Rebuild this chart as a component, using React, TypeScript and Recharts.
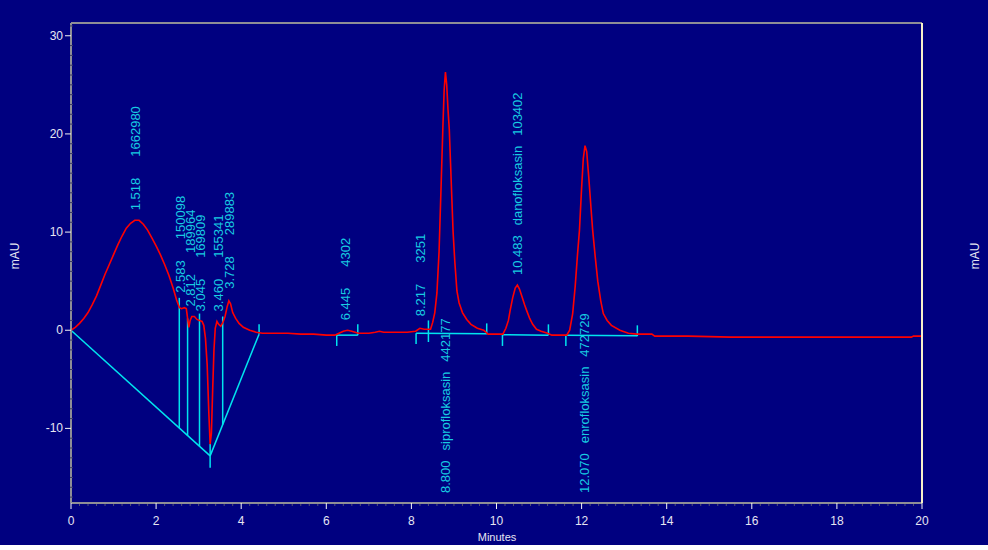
import { ComposedChart, Line, XAxis, YAxis, ReferenceLine, ReferenceDot } from 'recharts';

// detector trace (minutes / mAU)
const TIME = [
  0, 0.1, 0.2, 0.3, 0.4, 0.5, 0.6, 0.7, 0.8, 0.9, 1.0, 1.1, 1.2, 1.3, 1.4, 1.5, 1.6, 1.7, 1.8, 1.9,
  2.0, 2.1, 2.2, 2.3, 2.4, 2.48, 2.55, 2.6, 2.66, 2.71, 2.74, 2.77, 2.8, 2.84, 2.9, 2.96, 3.02, 3.08,
  3.12, 3.16, 3.2, 3.24, 3.27, 3.3, 3.33, 3.36, 3.39, 3.43, 3.47, 3.52, 3.57, 3.62, 3.67, 3.71, 3.75,
  3.8, 3.87, 3.95, 4.05, 4.2, 4.35, 4.5, 4.8, 5.1, 5.4, 5.7, 6.0, 6.2, 6.3, 6.4, 6.5, 6.6, 6.75, 7.0,
  7.15, 7.25, 7.35, 7.6, 7.9, 8.1, 8.2, 8.3, 8.45, 8.5, 8.55, 8.6, 8.65, 8.7, 8.74, 8.77, 8.8, 8.83,
  8.86, 8.89, 8.92, 8.95, 8.98, 9.02, 9.07, 9.12, 9.2, 9.3, 9.4, 9.55, 9.7, 9.8, 10.0, 10.15, 10.22,
  10.28, 10.32, 10.38, 10.44, 10.49, 10.54, 10.6, 10.66, 10.71, 10.78, 10.85, 10.94, 11.05, 11.2,
  11.3, 11.5, 11.65, 11.72, 11.79, 11.85, 11.9, 11.95, 12.0, 12.04, 12.08, 12.12, 12.17, 12.22, 12.26,
  12.32, 12.38, 12.45, 12.51, 12.6, 12.7, 12.9, 13.1, 13.3, 13.65, 13.72, 14.5, 15.5, 16.5, 17.5,
  18.5, 19.5, 19.75, 19.8, 20,
];
const SIGNAL = [
  0, 0.3, 0.7, 1.2, 1.8, 2.6, 3.5, 4.6, 5.7, 6.7, 7.7, 8.7, 9.6, 10.4, 10.9, 11.2, 11.2, 10.8, 10.2, 9.4,
  8.6, 7.7, 6.7, 5.6, 4.3, 3.1, 2.3, 2.2, 2.3, 2.2, 1.2, 0.3, 1.0, 1.4, 1.4, 1.1, 1.0, 0.9,
  0.5, -0.8, -3.5, -8.5, -11.6, -10.5, -6, -2, 0.2, 0.9, 0.6, 0.4, 0.8, 1.4, 2.4, 3.0, 2.7,
  1.8, 1.2, 0.7, 0.3, 0.0, -0.2, -0.3, -0.3, -0.3, -0.4, -0.4, -0.5, -0.5, -0.3, -0.1, 0.0, -0.1, -0.3, -0.3,
  -0.2, -0.1, -0.2, -0.2, -0.2, -0.1, 0.2, 0.1, 0.1, 0.8, 1.8, 3.8, 8.0, 15.0, 20.7, 24.5, 26.3, 25.0,
  22.5, 20.5, 17.0, 13.5, 10.0, 7.0, 4.0, 2.8, 1.8, 1.1, 0.6, 0.2, 0.0, -0.4, -0.4, -0.4, 0.2,
  1.0, 2.0, 3.3, 4.3, 4.6, 4.2, 3.4, 2.6, 2.0, 1.2, 0.6, 0.1, -0.1, -0.3,
  -0.5, -0.5, -0.5, 0.0, 1.7, 4.5, 7.5, 10.2, 14.5, 17.5, 18.8, 18.2, 15.5, 12.5, 10.2,
  7.5, 5.0, 3.0, 1.7, 1.0, 0.5, 0.0, -0.3, -0.4, -0.4, -0.6, -0.6, -0.7, -0.7, -0.7,
  -0.7, -0.7, -0.7, -0.6, -0.6,
];

// integration results
const PEAK_RT = [1.518, 2.583, 2.812, 3.045, 3.46, 3.728, 6.445, 8.217, 8.8, 10.483, 12.07];
const PEAK_AREA = [1662980, 150098, 189964, 169809, 155341, 289883, 4302, 3251, 442177, 103402, 472729];
const PEAK_HEIGHT = [11.2, 2.8, 1.4, 0.9, 0.9, 3.2, 0.0, 0.4, 26.3, 4.6, 18.8];
const PEAK_NAME = ['', '', '', '', '', '', '', '', 'siprofloksasin', 'danofloksasin', 'enrofloksasin'];

// baselines [x1, y1, x2, y2] and vertical marks [x, yTop, yBottom]
const BASELINES = [
  [0, 0, 3.27, -12.8],
  [3.27, -12.8, 4.42, -0.4],
  [6.245, -0.5, 6.74, -0.5],
  [8.11, -0.3, 9.77, -0.35],
  [10.14, -0.45, 11.22, -0.5],
  [11.63, -0.5, 13.31, -0.55],
];
const MARKS = [
  [0, 0.2, -0.9],
  [2.545, 3.3, -9.96],
  [2.74, 1.2, -10.73],
  [3.02, 1.7, -11.82],
  [3.27, -11.6, -14.0],
  [3.565, 1.4, -9.62],
  [4.42, 0.6, -0.4],
  [6.245, -0.5, -1.6],
  [6.74, 0.6, -0.5],
  [8.11, -0.3, -1.4],
  [8.4, 1.0, -1.2],
  [9.77, 0.7, -0.4],
  [10.14, -0.4, -1.6],
  [11.22, 0.6, -0.5],
  [11.63, -0.5, -1.6],
  [13.31, 0.5, -0.6],
];

const X_LABELS = [0, 2, 4, 6, 8, 10, 12, 14, 16, 18, 20];
const Y_LABELS = [-10, 0, 10, 20, 30];
const Y_MIN = -17.6;
const Y_MAX = 31.3;

const X_TICKS = Array.from({ length: 101 }, (_, i) => Math.round(i * 2) / 10);
const Y_TICKS = Array.from({ length: 49 }, (_, i) => i - 17);

const data = TIME.map((t, i) => ({ t, mAU: SIGNAL[i] }));

const CYAN = '#00e4ee';
const LABEL = '#18cce2';
const AXIS_TEXT = '#e6e6f2';
const FONT = '"Liberation Sans", Arial, sans-serif';

if (typeof document !== 'undefined') document.body.style.margin = '0';

const XTick = ({ x, y, payload }: any) => {
  if (!X_LABELS.includes(payload.value)) {
    return <line x1={x} x2={x} y1={y + 1} y2={y + 3} stroke="#50507a" />;
  }
  return (
    <g>
      <line x1={x} x2={x} y1={y} y2={y + 6} stroke="#f4f4f4" />
      <text x={x} y={y + 22} textAnchor="middle" fill={AXIS_TEXT} fontSize={12} fontFamily={FONT}>
        {payload.value}
      </text>
    </g>
  );
};

const LeftTick = ({ x, y, payload }: any) => {
  if (!Y_LABELS.includes(payload.value)) {
    return <line x1={x - 1} x2={x + 2} y1={y} y2={y} stroke="#3a3a6a" />;
  }
  return (
    <g>
      <line x1={x - 6} x2={x} y1={y} y2={y} stroke="#f4f4f4" />
      <text x={x - 8} y={y + 4} textAnchor="end" fill={AXIS_TEXT} fontSize={12} fontFamily={FONT}>
        {payload.value}
      </text>
    </g>
  );
};

const RightTick = ({ x, y, payload }: any) => {
  if (!Y_LABELS.includes(payload.value)) {
    return <line x1={x - 2} x2={x + 1} y1={y} y2={y} stroke="#6a6a70" />;
  }
  return (
    <g>
      <line x1={x} x2={x + 6} y1={y} y2={y} stroke="#f4f4f4" />
      <text x={x + 8} y={y + 4} textAnchor="start" fill={AXIS_TEXT} fontSize={12} fontFamily={FONT}>
        {payload.value}
      </text>
    </g>
  );
};

// rotated peak annotation: "rt  [name]  area", read bottom to top
const PeakLabel = ({ cx, cy, i }: any) => {
  const named = PEAK_NAME[i] !== '';
  const gap = named ? 10 : 21;
  const tx = cx + 4.5;
  const ty = cy - 10;
  return (
    <text
      x={tx}
      y={ty}
      transform={`rotate(-90, ${tx}, ${ty})`}
      fill={LABEL}
      fontSize={13}
      fontFamily={FONT}
      textAnchor="start"
    >
      <tspan>{PEAK_RT[i].toFixed(3)}</tspan>
      {named && <tspan dx={gap}>{PEAK_NAME[i]}</tspan>}
      <tspan dx={gap}>{PEAK_AREA[i]}</tspan>
    </text>
  );
};

const titleStyle = {
  position: 'absolute' as const,
  color: AXIS_TEXT,
  fontSize: 12,
  fontFamily: FONT,
  whiteSpace: 'nowrap' as const,
};

export default function App() {
  return (
    <div style={{ width: 988, height: 545, background: '#000080', position: 'relative' }}>
      <ComposedChart width={988} height={545} data={data} margin={{ top: 23, right: 0, bottom: 0, left: 0 }}>
        <XAxis
          dataKey="t"
          type="number"
          domain={[0, 20]}
          ticks={X_TICKS}
          interval={0}
          height={42}
          tickSize={0}
          tickMargin={0}
          tickLine={false}
          axisLine={{ stroke: '#8e8e96', strokeWidth: 2 }}
          tick={<XTick />}
        />
        <YAxis
          yAxisId="l"
          type="number"
          domain={[Y_MIN, Y_MAX]}
          ticks={Y_TICKS}
          interval={0}
          width={71}
          tickSize={0}
          tickMargin={0}
          tickLine={false}
          axisLine={{ stroke: '#8e8e96', strokeWidth: 2 }}
          tick={<LeftTick />}
        />
        <YAxis
          yAxisId="r"
          orientation="right"
          type="number"
          domain={[Y_MIN, Y_MAX]}
          ticks={Y_TICKS}
          interval={0}
          width={66}
          tickSize={0}
          tickMargin={0}
          tickLine={false}
          axisLine={{ stroke: '#f6f0c8', strokeWidth: 2 }}
          tick={<RightTick />}
        />
        <ReferenceLine yAxisId="l" y={Y_MAX} stroke="#8e8e96" strokeWidth={2} ifOverflow="visible" />
        {BASELINES.map((b, i) => (
          <ReferenceLine
            key={`b${i}`}
            yAxisId="l"
            segment={[{ x: b[0], y: b[1] }, { x: b[2], y: b[3] }]}
            stroke={CYAN}
            strokeWidth={1.5}
            ifOverflow="visible"
          />
        ))}
        {MARKS.map((m, i) => (
          <ReferenceLine
            key={`m${i}`}
            yAxisId="l"
            segment={[{ x: m[0], y: m[1] }, { x: m[0], y: m[2] }]}
            stroke={CYAN}
            strokeWidth={1.5}
            ifOverflow="visible"
          />
        ))}
        <Line
          yAxisId="l"
          type="linear"
          dataKey="mAU"
          stroke="#ff0000"
          strokeWidth={1.6}
          dot={false}
          activeDot={false}
          isAnimationActive={false}
        />
        {PEAK_RT.map((rt, i) => (
          <ReferenceDot
            key={`p${i}`}
            yAxisId="l"
            x={rt}
            y={PEAK_HEIGHT[i] > 15 ? Y_MIN : PEAK_HEIGHT[i]}
            r={0}
            ifOverflow="visible"
            shape={(p: any) => <PeakLabel {...p} i={i} />}
          />
        ))}
      </ComposedChart>
      <div style={{ ...titleStyle, left: 15, top: 256, transform: 'translate(-50%, -50%) rotate(-90deg)' }}>mAU</div>
      <div style={{ ...titleStyle, left: 975, top: 256, transform: 'translate(-50%, -50%) rotate(-90deg)' }}>mAU</div>
      <div style={{ ...titleStyle, left: 497, top: 537, fontSize: 11, transform: 'translate(-50%, -50%)' }}>Minutes</div>
    </div>
  );
}
